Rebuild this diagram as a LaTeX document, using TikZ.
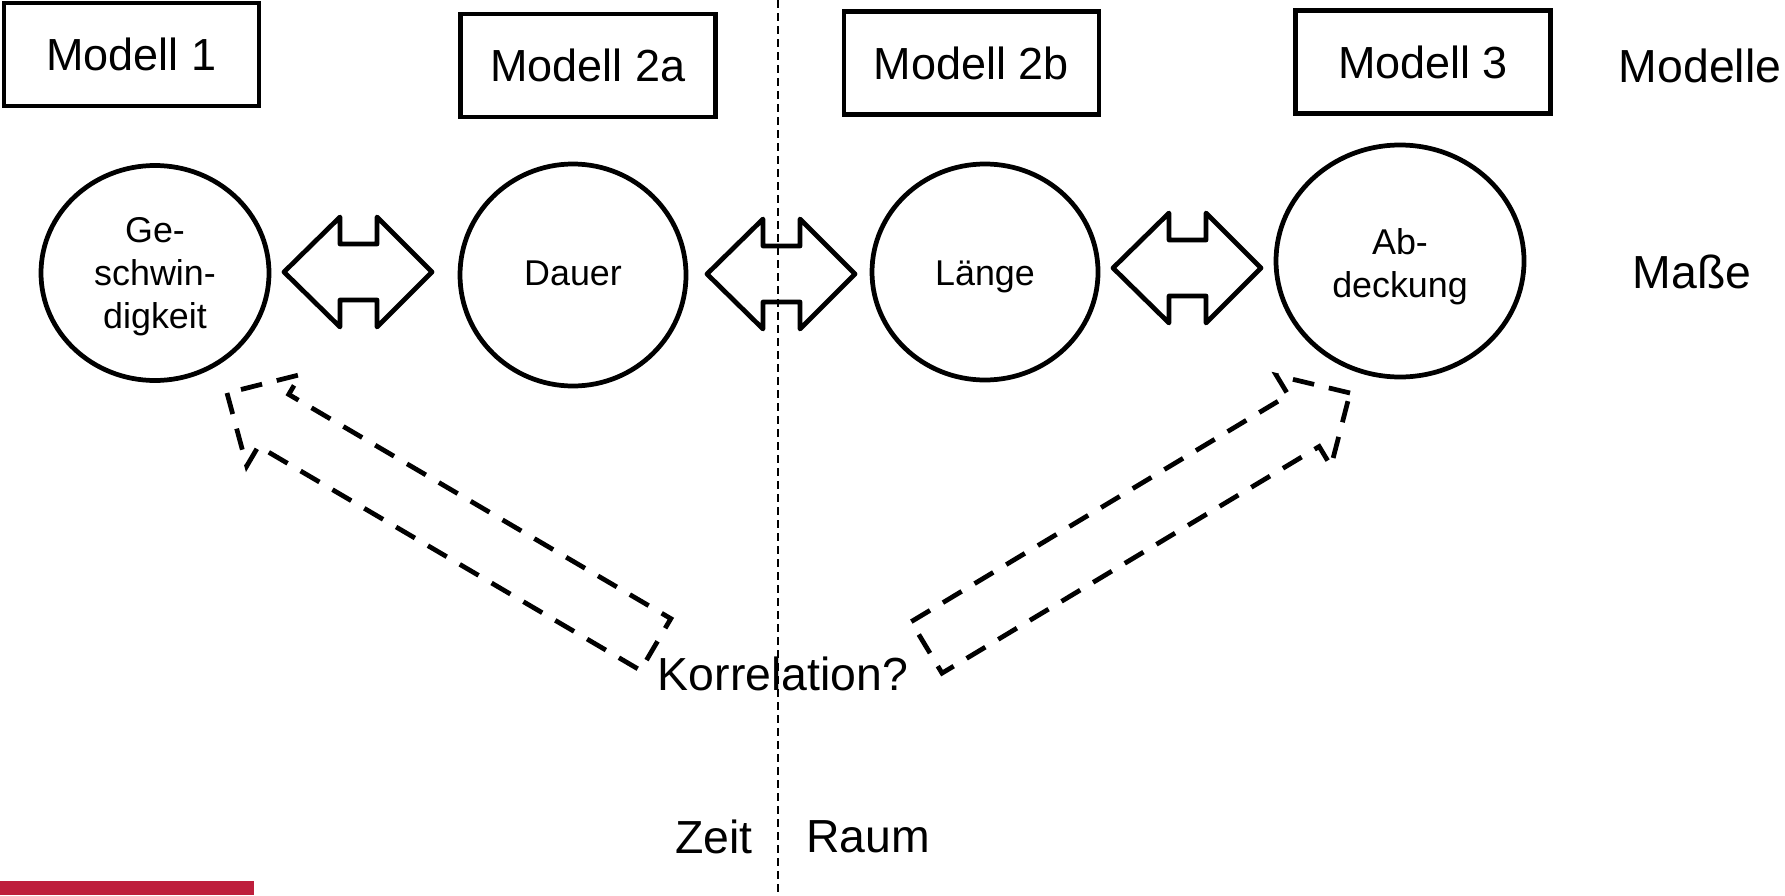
\documentclass[tikz,border=0pt]{standalone}
\usepackage{fontspec}
\setmainfont{Liberation Sans}
\usetikzlibrary{shapes.geometric}
\definecolor{unired}{RGB}{190,30,60}

\begin{document}
\begin{tikzpicture}[
        modbox/.style={draw, line width=1.35pt, minimum width=2.55cm, minimum height=1.03cm, inner sep=0pt, font=\fontsize{12.8}{15}\selectfont},
        mass/.style={draw, ellipse, line width=1.35pt, inner sep=0pt},
        masstext/.style={inner sep=0pt, align=center, font=\fontsize{10.2}{12.2}\selectfont},
        bigtext/.style={inner sep=0pt, font=\fontsize{13.2}{16}\selectfont},
        dblarrow/.style={line width=1.35pt, line join=round},
        dasharrow/.style={line width=1.35pt, dash pattern=on 6.2pt off 4.3pt},
        sepline/.style={line width=0.6pt, dash pattern=on 2.3pt off 1.4pt}
    ]

        \useasboundingbox (0,0) rectangle (17.85,-8.95);  % Same proportions as the slide

        % The model boxes on top
        \node[modbox] (m1) at (1.315,-0.545) {Modell 1};
        \node[modbox] (m2a) at (5.88,-0.655) {Modell 2a};
        \node[modbox] (m2b) at (9.715,-0.63) {Modell 2b};
        \node[modbox] (m3) at (14.23,-0.62) {Modell 3};
        \node[bigtext] (modelle) at (17.00,-0.66) {Modelle};

        % The measures (circle first, then its text)
        \node[mass, minimum width=2.28cm, minimum height=2.15cm] (ges) at (1.55,-2.73) {};
        \node[masstext, yshift=-0.035cm] (gestext) at (ges) {Ge-\\schwin-\\digkeit};
        \node[mass, minimum width=2.26cm, minimum height=2.22cm] (dau) at (5.73,-2.75) {};
        \node[masstext, yshift=0.02cm] (dautext) at (dau) {Dauer};
        \node[mass, minimum width=2.26cm, minimum height=2.16cm] (lae) at (9.85,-2.72) {};
        \node[masstext, yshift=-0.045cm] (laetext) at (lae) {Länge};
        \node[mass, minimum width=2.48cm, minimum height=2.32cm] (abd) at (14.00,-2.61) {};
        \node[masstext, yshift=-0.055cm] (abdtext) at (abd) {Ab-\\deckung};
        \node[bigtext] (masse) at (16.92,-2.72) {Maße};

        % Double arrows between the measures
        \draw[dblarrow] (2.84,-2.72) -- ++(0.56,0.55) -- ++(0,-0.27) -- ++(0.37,0) -- ++(0,0.27) -- ++(0.55,-0.55) -- ++(-0.55,-0.55) -- ++(0,0.27) -- ++(-0.37,0) -- ++(0,-0.27) -- cycle;
        \draw[dblarrow] (7.07,-2.74) -- ++(0.56,0.55) -- ++(0,-0.27) -- ++(0.37,0) -- ++(0,0.27) -- ++(0.55,-0.55) -- ++(-0.55,-0.55) -- ++(0,0.27) -- ++(-0.37,0) -- ++(0,-0.27) -- cycle;
        \draw[dblarrow] (11.13,-2.68) -- ++(0.56,0.55) -- ++(0,-0.27) -- ++(0.37,0) -- ++(0,0.27) -- ++(0.55,-0.55) -- ++(-0.55,-0.55) -- ++(0,0.27) -- ++(-0.37,0) -- ++(0,-0.27) -- cycle;

        % Correlation question with the two dashed arrows
        \node[bigtext] (korr) at (7.83,-6.74) {Korrelation?};
        \begin{scope}[shift={(2.27,-3.93)}, rotate=149.6]
            \draw[dasharrow] (0,0) -- (-0.54,0.53) -- (-0.54,0.30) -- (-4.97,0.30) -- (-4.97,-0.30) -- (-0.54,-0.30) -- (-0.54,-0.53) -- cycle;
        \end{scope}
        \begin{scope}[shift={(13.50,-3.93)}, rotate=31]
            \draw[dasharrow] (0,0) -- (-0.54,0.53) -- (-0.54,0.30) -- (-4.94,0.30) -- (-4.94,-0.30) -- (-0.54,-0.30) -- (-0.54,-0.53) -- cycle;
        \end{scope}

        % Time and space separator
        \coordinate (septop) at (7.78,0);
        \coordinate (sepbot) at (7.78,-8.95);
        \draw[sepline] (septop) -- (sepbot);
        \node[bigtext] (zeit) at (7.14,-8.37) {Zeit};
        \node[bigtext] (raum) at (8.68,-8.37) {Raum};

        % Red bar in the corner
        \fill[unired] (0,-8.81) rectangle (2.54,-8.95);

    \end{tikzpicture}
\end{document}
